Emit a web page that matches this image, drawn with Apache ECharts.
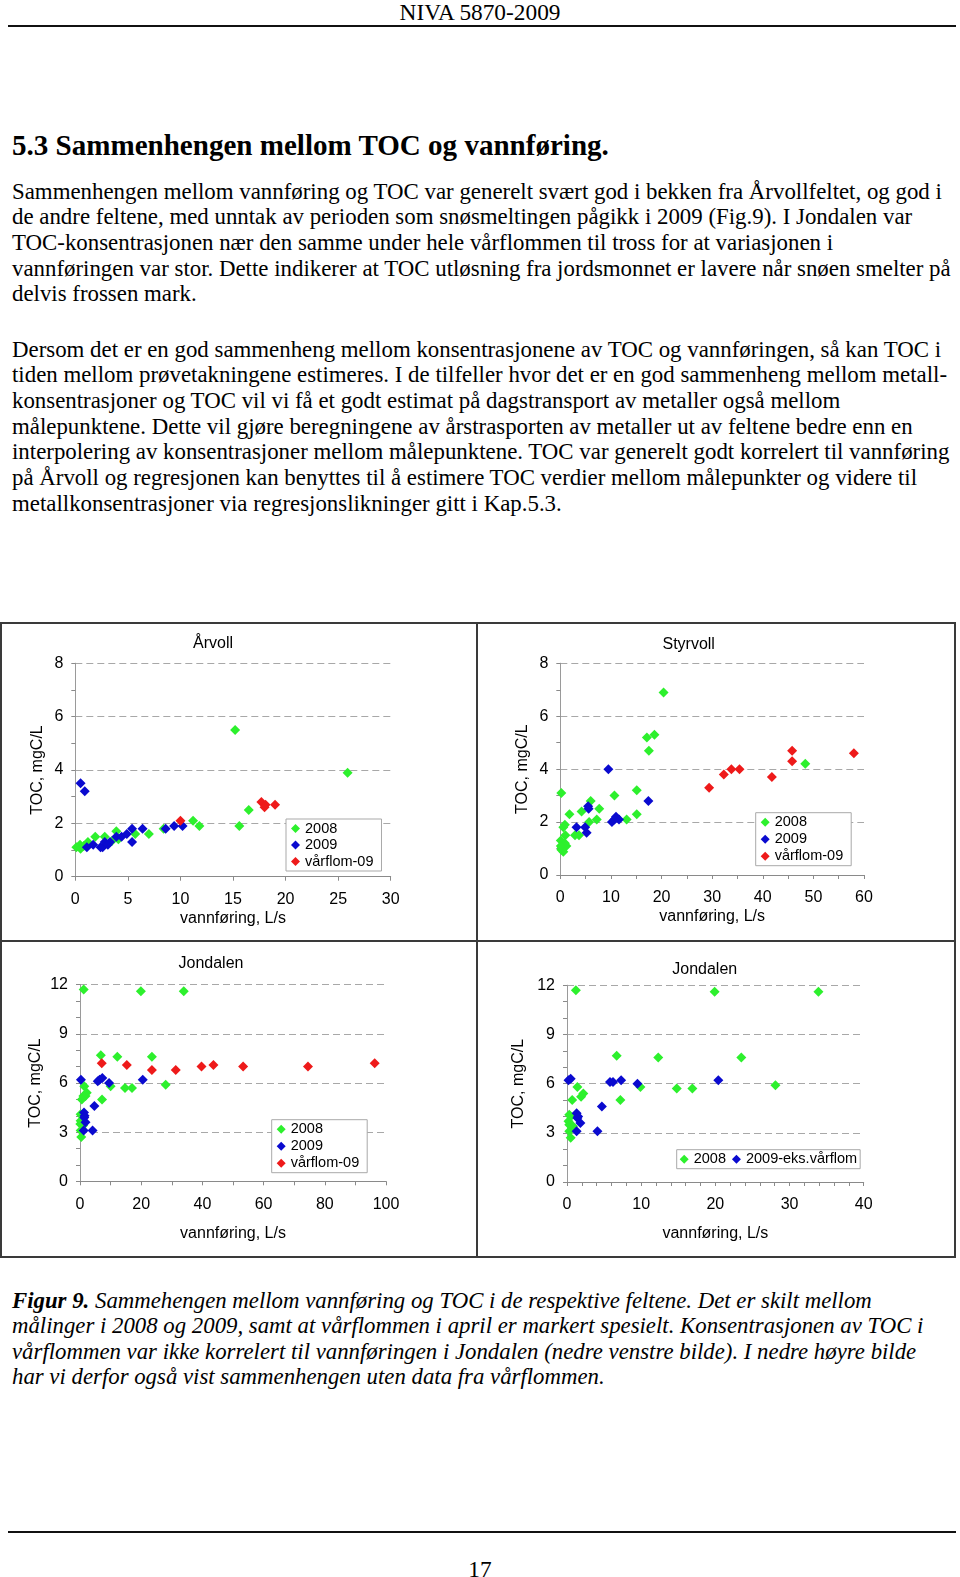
<!DOCTYPE html>
<html>
<head>
<meta charset="utf-8">
<script src="https://cdn.jsdelivr.net/npm/echarts@6/dist/echarts.min.js"></script>
<style>
  html, body { margin:0; padding:0; background:#fff; }
  #page { position:relative; width:960px; height:1577px; overflow:hidden; background:#fff; color:#000; }
  .serif { font-family:'Liberation Serif','Times New Roman',serif; }
  .ln { position:absolute; left:12px; white-space:nowrap; line-height:26px; height:26px; }
  .rule { position:absolute; left:8px; width:948px; height:2px; background:#111; }
  .frame { position:absolute; background:#3a3a3a; }
  #chart { position:absolute; left:0; top:620px; width:960px; height:640px; }
</style>
</head>
<body>
<div id="page" class="serif">
  <div id="hdr" class="serif" style="position:absolute;left:0;width:960px;top:-1px;text-align:center;line-height:26px;white-space:nowrap;"><span id="hdrText">NIVA 5870-2009</span></div>
  <div class="rule" style="top:25px;"></div>

  <div id="heading" class="serif" style="position:absolute;left:12px;top:129px;line-height:32px;font-weight:bold;white-space:nowrap;"><span id="headText">5.3 Sammenhengen mellom TOC og vannføring.</span></div>

  <div id="p1" class="serif"></div>
  <div id="p2" class="serif"></div>

  <div class="frame" style="left:1px;top:622px;width:955px;height:2px;"></div>
  <div class="frame" style="left:1px;top:1256px;width:955px;height:2px;"></div>
  <div class="frame" style="left:0px;top:622px;width:2px;height:636px;"></div>
  <div class="frame" style="left:954px;top:622px;width:2px;height:636px;"></div>
  <div class="frame" style="left:476px;top:622px;width:2px;height:636px;"></div>
  <div class="frame" style="left:1px;top:940px;width:955px;height:2px;"></div>

  <div id="chart"></div>

  <div id="cap" class="serif" style="font-style:italic;"></div>

  <div class="rule" style="top:1531px;"></div>
  <div id="pgno" class="serif" style="position:absolute;left:0;width:960px;top:1556px;text-align:center;line-height:26px;">17</div>
</div>

<script>
// ---------------- DATA ----------------
// Årvoll
const arvoll2008 = [[15.2,5.5],[25.9,3.9],[16.5,2.5],[15.6,1.9],[11.2,2.1],[11.8,1.9],[7.0,1.6],[8.4,1.8],
  [5.7,1.6],[3.9,1.7],[4.1,1.4],[2.8,1.5],[1.9,1.5],[1.2,1.3],[0.45,1.2],[0.1,1.1],[0.5,1.05],[3.5,1.35],[0.8,1.15]];
const arvoll2009 = [[0.5,3.5],[0.9,3.2],[1.1,1.1],[1.7,1.2],[2.4,1.1],[2.6,1.1],[2.8,1.3],[3.1,1.2],[3.3,1.3],
  [3.9,1.5],[4.4,1.5],[4.9,1.6],[5.4,1.8],[5.4,1.3],[6.4,1.8],[8.6,1.8],[9.4,1.9],[10.2,1.9]];
const arvollFlom = [[10.0,2.1],[17.7,2.8],[18.1,2.7],[18.0,2.6],[19.0,2.7]];

// Styrvoll
const styrvoll2008 = [[20.4,6.9],[17.1,5.2],[18.6,5.3],[17.5,4.7],[48.4,4.2],[0.2,3.1],[10.7,3.0],[15.1,3.2],
  [15.1,2.3],[6.0,2.8],[7.7,2.5],[4.2,2.4],[1.8,2.3],[0.9,1.9],[0.6,1.8],[5.7,2.0],[7.2,2.1],[13.1,2.1],
  [2.9,1.5],[3.7,1.5],[1.0,1.5],[0.1,1.3],[0.9,1.2],[1.2,1.1],[0.2,0.95],[0.6,0.88],[0.3,1.05],[0.1,1.1]];
const styrvoll2009 = [[9.5,4.0],[17.4,2.8],[5.5,2.6],[5.6,2.5],[3.2,1.8],[4.9,1.8],[5.2,1.6],[10.2,2.0],
  [11.0,2.2],[11.6,2.1],[10.7,2.1]];
const styrvollFlom = [[29.4,3.3],[32.3,3.8],[33.8,4.0],[35.4,4.0],[41.8,3.7],[45.8,4.7],[45.8,4.3],[58.0,4.6]];

// Jondalen (with vårflom)
const jondalen2008 = [[1.2,11.7],[19.9,11.6],[33.9,11.6],[6.8,7.7],[12.2,7.6],[23.5,7.6],[28.0,5.9],[10.0,5.8],
  [14.7,5.7],[17.0,5.7],[7.2,5.0],[1.4,5.8],[2.2,5.4],[1.8,5.2],[1.1,5.2],[0.6,5.0],[0.2,4.1],[0.2,3.7],
  [0.1,3.5],[0.2,3.1],[0.4,2.7],[0.6,4.0],[1.0,3.4]];
const jondalen2009 = [[0.3,6.2],[5.8,6.1],[6.4,6.2],[7.3,6.3],[9.5,6.0],[20.5,6.2],[4.7,4.6],[1.3,4.2],
  [1.5,4.0],[1.8,3.6],[1.2,3.1],[4.1,3.1],[1.4,3.9]];
const jondalenFlom = [[7.1,7.2],[15.3,7.1],[23.5,6.8],[31.3,6.8],[39.7,7.0],[43.6,7.1],[53.3,7.0],[74.5,7.0],[96.3,7.2]];

// Jondalen (without vårflom)
const jondalenB2008 = [[1.2,11.7],[19.9,11.6],[33.9,11.6],[6.7,7.7],[12.3,7.6],[23.5,7.6],[28.1,5.9],[9.9,5.8],
  [14.8,5.7],[16.9,5.7],[7.2,5.0],[1.4,5.8],[2.2,5.4],[1.9,5.2],[0.7,5.0],[0.3,4.1],[0.2,3.7],[0.3,3.5],
  [0.3,3.1],[0.5,2.7],[0.5,4.0],[0.8,3.4]];
const jondalenB2009eks = [[0.2,6.2],[0.5,6.3],[5.8,6.1],[6.2,6.1],[7.3,6.2],[9.5,6.0],[20.4,6.2],[4.7,4.6],
  [1.3,4.2],[1.4,3.9],[1.8,3.6],[1.3,3.1],[4.1,3.1],[1.5,4.0]];

const panelTitles = ['Årvoll','Styrvoll','Jondalen','Jondalen'];
const legendNames = [['2008','2009','vårflom-09'],['2008','2009','vårflom-09'],['2008','2009','vårflom-09'],['2008','2009-eks.vårflom']];
const xAxisName = 'vannføring, L/s';
const yAxisName = 'TOC, mgC/L';

// ---------------- TEXT ----------------
const p1Lines = [
 'Sammenhengen mellom vannføring og TOC var generelt svært god i bekken fra Årvollfeltet, og god i',
 'de andre feltene, med unntak av perioden som snøsmeltingen pågikk i 2009 (Fig.9). I Jondalen var',
 'TOC-konsentrasjonen nær den samme under hele vårflommen til tross for at variasjonen i',
 'vannføringen var stor. Dette indikerer at TOC utløsning fra jordsmonnet er lavere når snøen smelter på',
 'delvis frossen mark.'
];
const p2Lines = [
 'Dersom det er en god sammenheng mellom konsentrasjonene av TOC og vannføringen, så kan TOC i',
 'tiden mellom prøvetakningene estimeres. I de tilfeller hvor det er en god sammenheng mellom metall-',
 'konsentrasjoner og TOC vil vi få et godt estimat på dagstransport av metaller også mellom',
 'målepunktene. Dette vil gjøre beregningene av årstrasporten av metaller ut av feltene bedre enn en',
 'interpolering av konsentrasjoner mellom målepunktene. TOC var generelt godt korrelert til vannføring',
 'på Årvoll og regresjonen kan benyttes til å estimere TOC verdier mellom målepunkter og videre til',
 'metallkonsentrasjoner via regresjonslikninger gitt i Kap.5.3.'
];
const capLines = [
 '<b>Figur 9.</b> Sammehengen mellom vannføring og TOC i de respektive feltene. Det er skilt mellom',
 'målinger i 2008 og 2009, samt at vårflommen i april er markert spesielt. Konsentrasjonen av TOC i',
 'vårflommen var ikke korrelert til vannføringen i Jondalen (nedre venstre bilde). I nedre høyre bilde',
 'har vi derfor også vist sammenhengen uten data fra vårflommen.'
];

function buildLines(containerId, lines, top0, step) {
  const c = document.getElementById(containerId);
  lines.forEach((t, i) => {
    const d = document.createElement('div');
    d.className = 'ln';
    d.style.top = (top0 + i * step) + 'px';
    d.innerHTML = '<span>' + t + '</span>';
    c.appendChild(d);
  });
  return c;
}
function fitFont(container, refSpan, target, base) {
  container.style.fontSize = base + 'px';
  const w = refSpan.getBoundingClientRect().width;
  container.style.fontSize = (base * target / w).toFixed(2) + 'px';
}
const p1 = buildLines('p1', p1Lines, 178.5, 25.7);
const p2 = buildLines('p2', p2Lines, 336.5, 25.7);
const cap = buildLines('cap', capLines, 1287.5, 25.5);
fitFont(p1, p1.querySelector('span'), 930, 20);
fitFont(p2, p2.querySelector('span'), 929, 20);
fitFont(cap, cap.querySelectorAll('span')[1], 912, 20);
fitFont(document.getElementById('hdr'), document.getElementById('hdrText'), 161, 20);
fitFont(document.getElementById('heading'), document.getElementById('headText'), 597, 24);
document.getElementById('pgno').style.fontSize = document.getElementById('hdr').style.fontSize;

// ---------------- CHART ----------------
const FONT = "'Liberation Sans', Arial, sans-serif";
const C_GREEN = '#2df02d', C_BLUE = '#0a0acf', C_RED = '#ee1a1a';
const grids = [
  {left:75.3, top:43.3, width:315.4, height:213.4},
  {left:560.3, top:43.3, width:303.7, height:211.7},
  {left:80, top:364.7, width:306, height:196.6},
  {left:567, top:365.3, width:296.7, height:196.7}
];
const xCfg = [ {max:30, interval:5, minor:1, gap:33}, {max:60, interval:10, minor:2, gap:33},
               {max:100, interval:20, minor:2, gap:43}, {max:40, interval:10, minor:5, gap:43} ];
const yCfg = [ {max:8, interval:2, minor:2, gap:30}, {max:8, interval:2, minor:2, gap:30},
               {max:12, interval:3, minor:3, gap:36}, {max:12, interval:3, minor:3, gap:40} ];
const titlePos = [[213,16],[688.7,17],[211,336],[704.7,342]];
const AX = '#8a8a8a';

const xAxes = [], yAxes = [], titles = [];
grids.forEach((g, i) => {
  xAxes.push({
    gridIndex:i, type:'value', min:0, max:xCfg[i].max, interval:xCfg[i].interval,
    axisLine:{show:true, onZero:false, lineStyle:{color:AX, width:1}},
    axisTick:{show:true, length:4, lineStyle:{color:AX}},
    minorTick:{show:xCfg[i].minor > 1, splitNumber:xCfg[i].minor, length:4, lineStyle:{color:AX}},
    splitLine:{show:false},
    axisLabel:{color:'#000', fontSize:16, fontFamily:FONT, margin:15},
    name:xAxisName, nameLocation:'middle', nameGap:xCfg[i].gap + 1,
    nameTextStyle:{color:'#000', fontSize:16, fontFamily:FONT}
  });
  yAxes.push({
    gridIndex:i, type:'value', min:0, max:yCfg[i].max, interval:yCfg[i].interval, position:'left',
    axisLine:{show:true, onZero:false, lineStyle:{color:AX, width:1}},
    axisTick:{show:true, length:4, lineStyle:{color:AX}},
    minorTick:{show:true, splitNumber:yCfg[i].minor, length:4, lineStyle:{color:AX}},
    splitLine:{show:true, lineStyle:{color:'#a8a8a8', width:1, type:[7,4]}},
    axisLabel:{color:'#000', fontSize:16, fontFamily:FONT, margin:12},
    name:yAxisName, nameLocation:'middle', nameGap:yCfg[i].gap,
    nameTextStyle:{color:'#000', fontSize:16, fontFamily:FONT}
  });
  titles.push({
    text:panelTitles[i], left:titlePos[i][0], top:titlePos[i][1], textAlign:'center', padding:0,
    textStyle:{fontSize:16, fontWeight:'normal', color:'#000', fontFamily:FONT}
  });
});
// right-hand plot-area border (solid grey)
grids.forEach((g, i) => {
  yAxes.push({
    gridIndex:i, type:'value', min:0, max:yCfg[i].max, position:'right',
    axisLine:{show:true, lineStyle:{color:'#9a9a9a', width:1}},
    axisTick:{show:false}, axisLabel:{show:false}, splitLine:{show:false}
  });
});

function sc(name, data, i, color) {
  return { type:'scatter', name:name, data:data, xAxisIndex:i, yAxisIndex:i,
           symbol:'diamond', symbolSize:10, itemStyle:{color:color, opacity:1}, emphasis:{disabled:true} };
}
const series = [
  sc('2008', arvoll2008, 0, C_GREEN), sc('2009', arvoll2009, 0, C_BLUE), sc('vårflom-09', arvollFlom, 0, C_RED),
  sc('2008', styrvoll2008, 1, C_GREEN), sc('2009', styrvoll2009, 1, C_BLUE), sc('vårflom-09', styrvollFlom, 1, C_RED),
  sc('2008', jondalen2008, 2, C_GREEN), sc('2009', jondalen2009, 2, C_BLUE), sc('vårflom-09', jondalenFlom, 2, C_RED),
  sc('2008', jondalenB2008, 3, C_GREEN), sc('2009-eks.vårflom', jondalenB2009eks, 3, C_BLUE)
];

function lg(i, left, top, orient, pad, gap) {
  return {
    data:legendNames[i], orient:orient, left:left, top:top, icon:'diamond',
    itemWidth:9, itemHeight:9, itemGap:gap, padding:pad, selectedMode:false,
    borderColor:'#a9a9a9', borderWidth:1, backgroundColor:'#fff',
    textStyle:{fontSize:14.5, color:'#000', fontFamily:FONT, lineHeight:15}
  };
}
const legends = [
  lg(0, 286, 199, 'vertical', [2,8,2,5], 1.5),
  lg(1, 755.7, 192.7, 'vertical', [2,8,2,5], 2),
  lg(2, 271.7, 499.7, 'vertical', [2,8,2,5], 2),
  lg(3, 676.7, 529.7, 'horizontal', [2,3,2,3], 6)
];

const chart = echarts.init(document.getElementById('chart'), null, {renderer:'canvas'});
chart.setOption({
  animation:false,
  backgroundColor:'transparent',
  title:titles,
  grid:grids.map(g => Object.assign({containLabel:false}, g)),
  xAxis:xAxes, yAxis:yAxes, legend:legends, series:series
});
</script>
</body>
</html>
